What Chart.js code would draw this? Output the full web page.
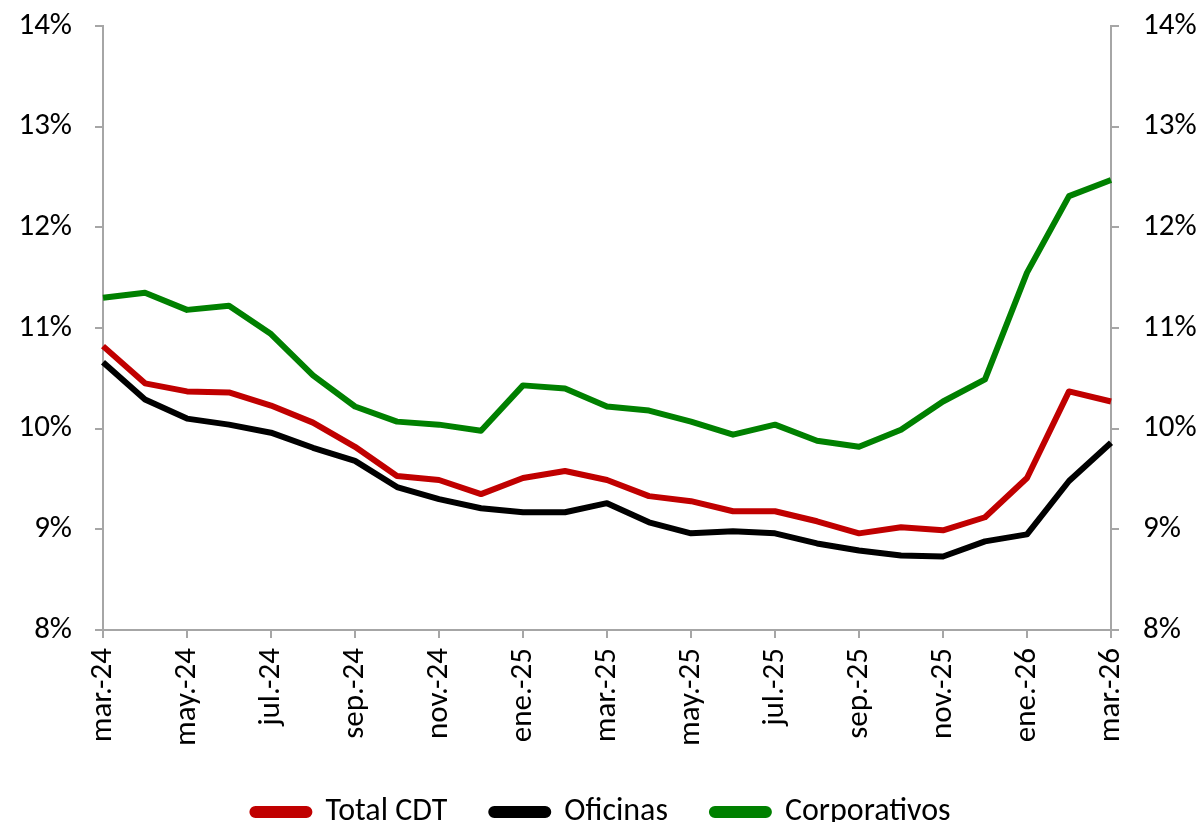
<!DOCTYPE html>
<html>
<head>
<meta charset="utf-8">
<script src="https://cdn.jsdelivr.net/npm/chart.js@4.4.1/dist/chart.umd.min.js"></script>
<style>
  html, body { margin: 0; padding: 0; background: #ffffff; }
  #wrap { width: 1203px; height: 822px; position: relative; }
</style>
</head>
<body>
<div id="wrap"><canvas id="c" width="1203" height="822"></canvas></div>
<script>
const categories = ["mar.-24","abr.-24","may.-24","jun.-24","jul.-24","ago.-24","sep.-24","oct.-24","nov.-24","dic.-24",
  "ene.-25","feb.-25","mar.-25","abr.-25","may.-25","jun.-25","jul.-25","ago.-25","sep.-25","oct.-25","nov.-25","dic.-25",
  "ene.-26","feb.-26","mar.-26"];
const totalCDT = [10.82,10.45,10.37,10.36,10.23,10.06,9.82,9.53,9.49,9.35,9.51,9.58,9.49,9.33,9.28,9.18,9.18,9.08,8.96,9.02,8.99,9.12,9.51,10.37,10.27];
const oficinas = [10.66,10.29,10.10,10.04,9.96,9.81,9.68,9.42,9.30,9.21,9.17,9.17,9.26,9.07,8.96,8.98,8.96,8.86,8.79,8.74,8.73,8.88,8.95,9.48,9.86];
const corporativos = [11.30,11.35,11.18,11.22,10.94,10.53,10.22,10.07,10.04,9.98,10.43,10.40,10.22,10.18,10.07,9.94,10.04,9.88,9.82,9.99,10.27,10.49,11.55,12.31,12.47];
const seriesNames = ["Total CDT","Oficinas","Corporativos"];
const yTicks = [8,9,10,11,12,13,14];

const FONT = "Carlito, Lato, 'Liberation Sans', sans-serif";
const FS = 31;
const AXIS = "#A6A6A6";

function ds(label, data, color) {
  return { label, data, borderColor: color, backgroundColor: color, borderWidth: 6,
    pointRadius: 0, pointHoverRadius: 0, tension: 0, fill: false,
    borderJoinStyle: 'round', borderCapStyle: 'butt', yAxisID: 'y' };
}

function yFit(width) {
  return (s) => { s.width = width; s.paddingTop = 0; s.paddingBottom = 0; };
}

new Chart(document.getElementById('c'), {
  type: 'line',
  data: {
    labels: categories,
    datasets: [
      ds(seriesNames[0], totalCDT, '#C00000'),
      ds(seriesNames[1], oficinas, '#000000'),
      ds(seriesNames[2], corporativos, '#008000')
    ]
  },
  options: {
    responsive: false,
    animation: false,
    devicePixelRatio: 1,
    layout: { padding: { top: 26, right: 0, left: 0, bottom: -16 } },
    plugins: {
      tooltip: { enabled: false },
      legend: {
        position: 'bottom',
        labels: {
          font: { family: FONT, size: 32 },
          color: '#000',
          boxWidth: 57,
          boxHeight: 6,
          useBorderRadius: true,
          borderRadius: 3,
          padding: 44
        }
      }
    },
    scales: {
      x: {
        offset: false,
        grid: {
          drawOnChartArea: false,
          tickLength: 8,
          lineWidth: 2,
          tickColor: (ctx) => (ctx.index % 2 === 0 ? AXIS : 'rgba(0,0,0,0)')
        },
        border: { color: AXIS, width: 2 },
        ticks: {
          autoSkip: false,
          minRotation: 90,
          maxRotation: 90,
          padding: 10,
          font: { family: FONT, size: FS },
          color: '#000',
          callback: function(v, i) { return i % 2 === 0 ? categories[i] : ''; }
        },
        afterFit: (s) => { s.height = 122; }
      },
      y: {
        position: 'left',
        min: 8, max: 14,
        afterBuildTicks: (s) => { s.ticks = yTicks.map(v => ({ value: v })); },
        grid: { drawOnChartArea: false, tickLength: 8, lineWidth: 2, tickColor: AXIS },
        border: { color: AXIS, width: 2 },
        ticks: {
          padding: 23,
          font: { family: FONT, size: FS },
          color: '#000',
          callback: (v) => v + '%'
        },
        afterFit: yFit(103)
      },
      y2: {
        position: 'right',
        min: 8, max: 14,
        afterBuildTicks: (s) => { s.ticks = yTicks.map(v => ({ value: v })); },
        grid: { drawOnChartArea: false, tickLength: 8, lineWidth: 2, tickColor: AXIS },
        border: { color: AXIS, width: 2 },
        ticks: {
          padding: 24,
          font: { family: FONT, size: FS },
          color: '#000',
          callback: (v) => v + '%'
        },
        afterFit: yFit(92)
      }
    }
  }
});
</script>
</body>
</html>
